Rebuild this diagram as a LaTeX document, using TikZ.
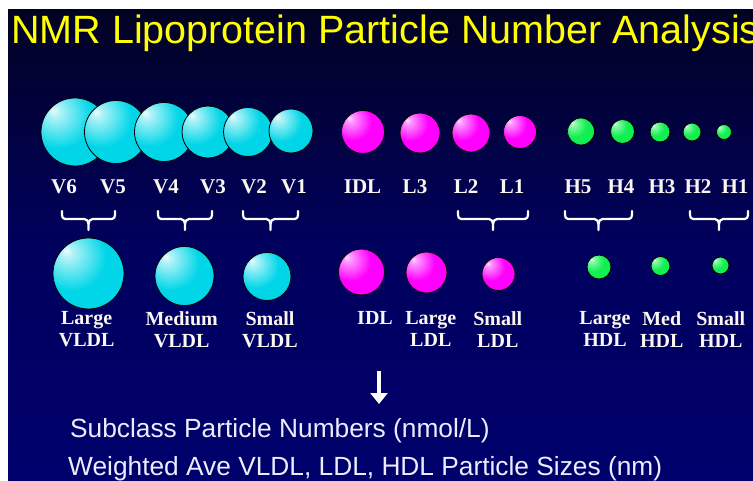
\documentclass[tikz,border=0pt]{standalone}
\usepackage{fontspec}
\setmainfont{Liberation Serif}
\newfontfamily\arialf{Liberation Sans}
\usetikzlibrary{arrows.meta}
\definecolor{cyanC}{RGB}{0,214,232}
\definecolor{magC}{RGB}{255,0,255}
\definecolor{grnC}{RGB}{16,240,80}
\definecolor{bgTop}{RGB}{2,2,36}
\definecolor{bgBot}{RGB}{0,0,108}
\definecolor{titleC}{RGB}{255,255,0}
\definecolor{lblC}{RGB}{250,246,240}
\definecolor{txtC}{RGB}{236,236,255}
\pgfdeclareradialshading{ballcyan}{\pgfpoint{-16bp}{16bp}}{color(0bp)=(white!92!cyanC); color(4bp)=(white!70!cyanC); color(24bp)=(cyanC); color(90bp)=(cyanC)}
\pgfdeclareradialshading{ballmag}{\pgfpoint{-16bp}{16bp}}{color(0bp)=(white!85!magC); color(4bp)=(white!60!magC); color(22bp)=(magC); color(90bp)=(magC)}
\pgfdeclareradialshading{ballgrn}{\pgfpoint{-16bp}{16bp}}{color(0bp)=(white!85!grnC); color(4bp)=(white!55!grnC); color(22bp)=(grnC); color(90bp)=(grnC)}
\tikzset{
  ball/.style={circle, draw=black, line width=0.8pt, inner sep=0pt, minimum size=#1},
  cball/.style={ball=#1, shading=ballcyan},
  mball/.style={ball=#1, shading=ballmag},
  gball/.style={ball=#1, shading=ballgrn},
  toplbl/.style={text=lblC, font=\fontsize{21}{23}\selectfont\bfseries, anchor=base, inner sep=0pt},
  botlbl/.style={text=lblC, font=\fontsize{20}{22}\selectfont\bfseries, anchor=north, inner sep=0pt, align=center},
  bracestyle/.style={draw=white, line width=2.2pt, line cap=round, line join=round},
  pics/ubrace/.style={code={
    \draw[bracestyle] ({-#1},0) -- ({-#1},4) to[out=-90,in=180] ({-#1+3},8) -- (-4,8) to[out=0,in=90] (0,13) -- (0,19);
    \draw[bracestyle] ({#1},0) -- ({#1},4) to[out=-90,in=0] ({#1-3},8) -- (4,8) to[out=180,in=90] (0,13);
  }},
  bigtxt/.style={text=txtC, font=\arialf\fontsize{26.3}{30}\selectfont, anchor=base west, inner sep=0pt}
}
\begin{document}
\begin{tikzpicture}[x=1pt,y=-1pt]
\useasboundingbox (0,0) rectangle (753,481);
\fill[white] (0,0) rectangle (753,481);
\shade[top color=bgTop, bottom color=bgBot, middle color=bgBot!80!bgTop] (8,10) rectangle (753,481);
% title
\node[text=titleC, font=\arialf\fontsize{39.5}{42}\selectfont, anchor=base west, inner sep=0pt] (title) at (11,44) {NMR Lipoprotein Particle Number Analysis};
% top row VLDL
\node[cball=68pt] (v6) at (75,132) {};
\node[cball=63pt] (v5) at (116,132) {};
\node[cball=59pt] (v4) at (164,132) {};
\node[cball=52pt] (v3) at (208,132) {};
\node[cball=49pt] (v2) at (248,132) {};
\node[cball=44pt] (v1) at (291,131) {};
% top row LDL
\node[mball=43pt] (idl) at (363,132) {};
\node[mball=40pt] (l3) at (420,133) {};
\node[mball=38pt] (l2) at (471,133) {};
\node[mball=33pt] (l1) at (520,132) {};
% top row HDL
\node[gball=27pt] (h5) at (581,131.5) {};
\node[gball=24pt] (h4) at (622.5,131.5) {};
\node[gball=20pt] (h3) at (660,132) {};
\node[gball=18pt] (h2) at (692,132) {};
\node[gball=15pt] (h1) at (724,132) {};
% top labels
\node[toplbl] (tv6) at (64,194) {V6};
\node[toplbl] (tv5) at (113,194) {V5};
\node[toplbl] (tv4) at (166,194) {V4};
\node[toplbl] (tv3) at (213,194) {V3};
\node[toplbl] (tv2) at (254,194) {V2};
\node[toplbl] (tv1) at (294,194) {V1};
\node[toplbl] (tidl) at (362.5,194) {IDL};
\node[toplbl] (tl3) at (415,194) {L3};
\node[toplbl] (tl2) at (466,194) {L2};
\node[toplbl] (tl1) at (512,194) {L1};
\node[toplbl] (th5) at (578,194) {H5};
\node[toplbl] (th4) at (621,194) {H4};
\node[toplbl] (th3) at (662,194) {H3};
\node[toplbl] (th2) at (698,194) {H2};
\node[toplbl] (th1) at (735,194) {H1};
% braces
\pic at (88.5,211) {ubrace=26.5};
\pic at (185,211) {ubrace=27};
\pic at (270.5,211) {ubrace=27.5};
\pic at (493,211) {ubrace=35};
\pic at (598.5,211) {ubrace=33.5};
\pic at (719,211) {ubrace=29};
% bottom row
\node[cball=71pt] (lv) at (88.5,273.5) {};
\node[cball=59pt] (mv) at (184.5,276) {};
\node[cball=48pt] (sv) at (267,276.5) {};
\node[mball=46pt] (bidl) at (361.5,272) {};
\node[mball=41pt] (ll) at (426.5,272.5) {};
\node[mball=33pt] (sl) at (498.5,274) {};
\node[gball=24pt] (lh) at (599,267) {};
\node[gball=19pt] (mh) at (660.5,266) {};
\node[gball=17pt] (sh) at (720.5,265.5) {};
% bottom labels
\node[botlbl] (tlv) at (86.7,311) {Large\\VLDL};
\node[botlbl] (tmv) at (181.7,311) {Medium\\VLDL};
\node[botlbl] (tsv) at (270,311) {Small\\VLDL};
\node[botlbl] (tbidl) at (375,311) {IDL};
\node[botlbl] (tll) at (430.8,311) {Large\\LDL};
\node[botlbl] (tsl) at (497.8,311) {Small\\LDL};
\node[botlbl] (tlh) at (605,311) {Large\\HDL};
\node[botlbl] (tmh) at (661.7,311) {Med\\HDL};
\node[botlbl] (tsh) at (720.8,311) {Small\\HDL};
% arrow
\coordinate (arrS) at (379,371);
\coordinate (arrE) at (379,404);
\draw[white, line width=4pt, -{Triangle[length=11pt,width=17pt]}] (arrS) -- (arrE);
% bottom text
\node[bigtxt] (line1) at (70,437) {Subclass Particle Numbers (nmol/L)};
\node[bigtxt] (line2) at (68,475) {Weighted Ave VLDL, LDL, HDL Particle Sizes (nm)};
\end{tikzpicture}
\end{document}
